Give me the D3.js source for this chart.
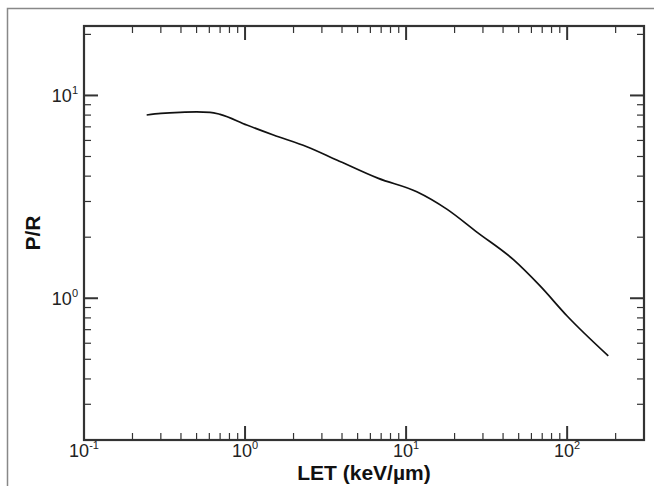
<!DOCTYPE html>
<html lang="en">
<head>
<meta charset="UTF-8">
<title>P/R vs LET</title>
<script src="https://d3js.org/d3.v7.min.js"></script>
<style>
    body { margin: 0; background: #fff; }
    svg { display: block; }
    .tick-label { font-family: "Liberation Sans", Arial, sans-serif; font-size: 18px; fill: #222; }
    .axis-title { font-family: "Liberation Sans", Arial, sans-serif; font-size: 21px; font-weight: bold; fill: #111; }
</style>
</head>
<body>
<svg width="654" height="486"></svg>
<script>
// LET (keV/um) and P/R
const letValues = [0.245, 0.30, 0.395, 0.50, 0.606, 0.70, 1.025, 1.50, 2.42, 3.71, 6.73, 11.65, 17.9, 27.5, 46.4, 67.9, 99.6, 180];
const prValues  = [8.01, 8.15, 8.26, 8.30, 8.26, 8.07, 7.15, 6.38, 5.59, 4.81, 3.90, 3.35, 2.75, 2.12, 1.55, 1.15, 0.82, 0.52];

const xDomain = [0.1, 300];
const yDomain = [0.2, 22];
const xMajor = [0.1, 1, 10, 100];
const yMajor = [1, 10];
const xLabels = ["-1", "0", "1", "2"];
const yLabels = ["0", "1"];

const svg = d3.select("svg");
const margin = { left: 84, top: 26, right: 644, bottom: 440 };

// outer frame
svg.append("path")
    .attr("d", "M7.5,486V8.5H654")
    .attr("fill", "none")
    .attr("stroke", "#888")
    .attr("stroke-width", 1.5);

const x = d3.scaleLog().domain(xDomain).range([margin.left, margin.right]);
const y = d3.scaleLog().domain(yDomain).range([margin.bottom, margin.top]);

// minor ticks 2..9 per decade
function minors(domain) {
    let out = [];
    for (let e = -2; e <= 3; e++) {
        for (let m = 2; m <= 9; m++) {
            let v = m * Math.pow(10, e);
            if (v > domain[0] * 1.001 && v < domain[1] * 0.999) out.push(v);
        }
    }
    return out;
}

const tickG = svg.append("g").attr("stroke", "#333");
const majLen = 14, minLen = 7;

// x ticks, bottom and top, pointing inward
minors(xDomain).forEach(v => {
    tickG.append("line").attr("x1", x(v)).attr("x2", x(v)).attr("y1", margin.bottom).attr("y2", margin.bottom - minLen).attr("stroke-width", 1.2);
    tickG.append("line").attr("x1", x(v)).attr("x2", x(v)).attr("y1", margin.top).attr("y2", margin.top + minLen).attr("stroke-width", 1.2);
});
xMajor.forEach(v => {
    tickG.append("line").attr("x1", x(v)).attr("x2", x(v)).attr("y1", margin.bottom).attr("y2", margin.bottom - majLen).attr("stroke-width", 2);
    tickG.append("line").attr("x1", x(v)).attr("x2", x(v)).attr("y1", margin.top).attr("y2", margin.top + majLen).attr("stroke-width", 2);
});

// y ticks, left and right
minors(yDomain).forEach(v => {
    tickG.append("line").attr("y1", y(v)).attr("y2", y(v)).attr("x1", margin.left).attr("x2", margin.left + minLen).attr("stroke-width", 1.2);
    tickG.append("line").attr("y1", y(v)).attr("y2", y(v)).attr("x1", margin.right).attr("x2", margin.right - minLen).attr("stroke-width", 1.2);
});
yMajor.forEach(v => {
    tickG.append("line").attr("y1", y(v)).attr("y2", y(v)).attr("x1", margin.left).attr("x2", margin.left + majLen).attr("stroke-width", 2);
    tickG.append("line").attr("y1", y(v)).attr("y2", y(v)).attr("x1", margin.right).attr("x2", margin.right - majLen).attr("stroke-width", 2);
});

// plot box
svg.append("rect")
    .attr("x", margin.left).attr("y", margin.top)
    .attr("width", margin.right - margin.left).attr("height", margin.bottom - margin.top)
    .attr("fill", "none").attr("stroke", "#333").attr("stroke-width", 2.2);

// x tick labels
xMajor.forEach((v, i) => {
    let t = svg.append("text").attr("class", "tick-label")
        .attr("x", x(v)).attr("y", 457).attr("text-anchor", "middle");
    t.append("tspan").text("10");
    t.append("tspan").attr("font-size", "11px").attr("dy", -8).text(xLabels[i]);
});

// y tick labels
yMajor.forEach((v, i) => {
    let t = svg.append("text").attr("class", "tick-label")
        .attr("x", 78).attr("y", y(v) + 7).attr("text-anchor", "end");
    t.append("tspan").text("10");
    t.append("tspan").attr("font-size", "11px").attr("dy", -8).text(yLabels[i]);
});

// axis titles
svg.append("text").attr("class", "axis-title")
    .attr("x", (margin.left + margin.right) / 2).attr("y", 480)
    .attr("text-anchor", "middle")
    .text("LET (keV/\u00b5m)");

svg.append("text").attr("class", "axis-title")
    .attr("transform", `translate(40,${(margin.top + margin.bottom) / 2}) rotate(-90)`)
    .attr("text-anchor", "middle")
    .text("P/R");

// curve
const pts = letValues.map((d, i) => [d, prValues[i]]);
svg.append("path")
    .datum(pts)
    .attr("fill", "none")
    .attr("stroke", "#111")
    .attr("stroke-width", 1.7)
    .attr("d", d3.line().x(d => x(d[0])).y(d => y(d[1])).curve(d3.curveMonotoneX));
</script>
</body>
</html>
